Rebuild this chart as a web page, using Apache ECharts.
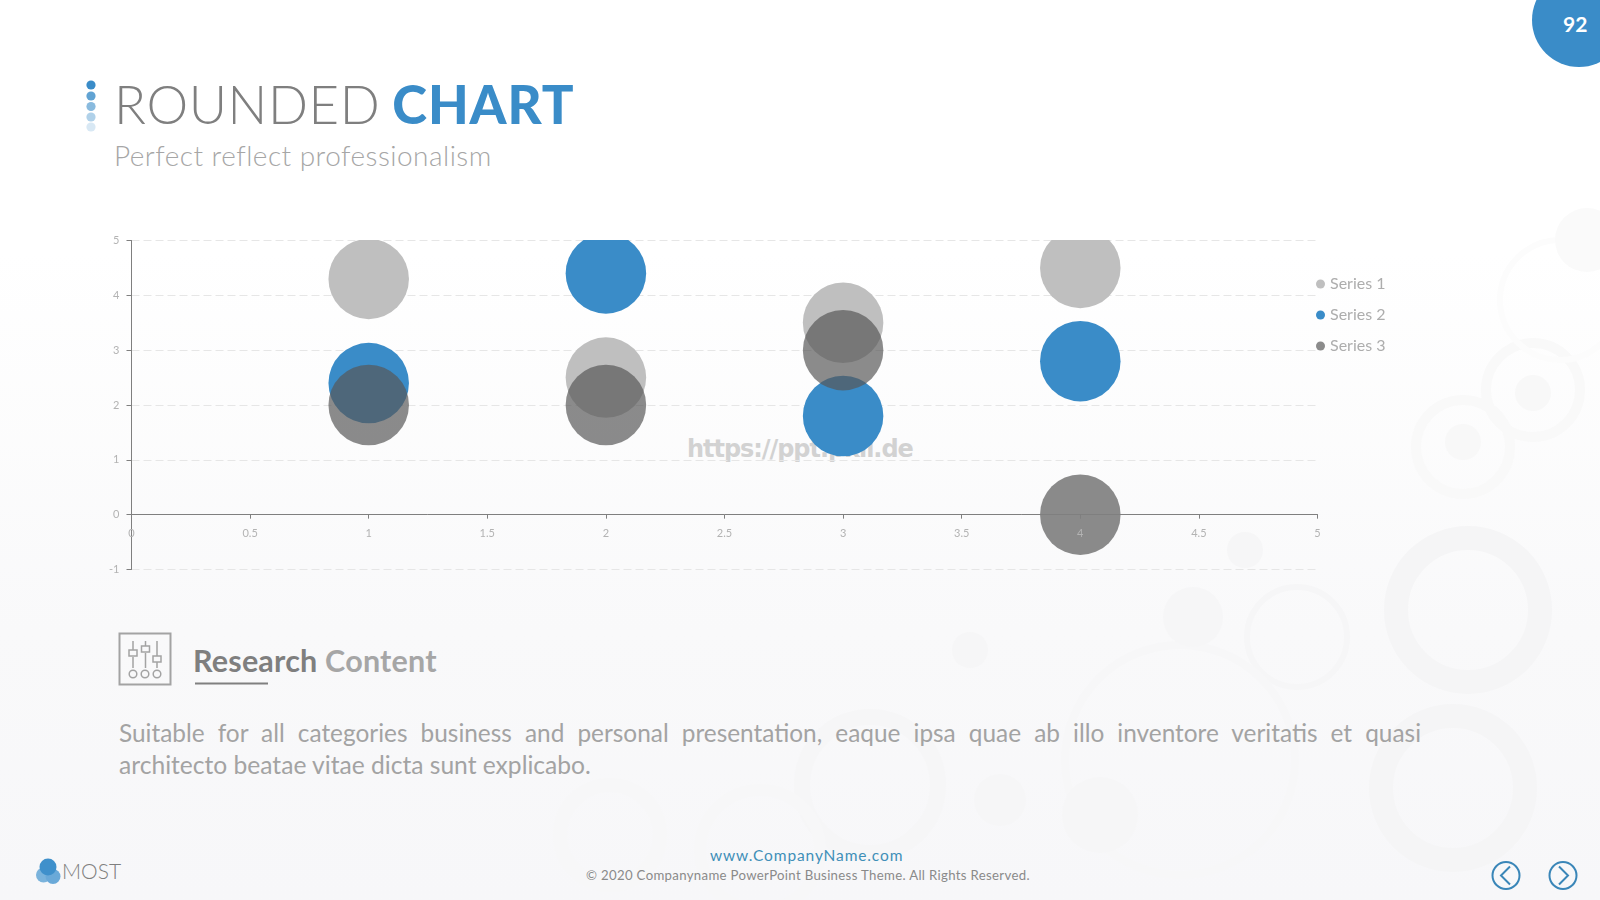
<!DOCTYPE html>
<html>
<head>
<meta charset="utf-8">
<title>Rounded Chart</title>
<script src="https://cdn.jsdelivr.net/npm/echarts@6/dist/echarts.min.js"></script>
<style>
html,body{margin:0;padding:0;width:1600px;height:900px;overflow:hidden;background:#fff;font-family:Lato,sans-serif}
#bg{position:absolute;left:0;top:0}
.t{position:absolute;white-space:nowrap;line-height:1}
#chart{position:absolute;left:0;top:0;width:1600px;height:900px}
</style>
</head>
<body>
<svg id="bg" width="1600" height="900" viewBox="0 0 1600 900">
  <defs><linearGradient id="g" x1="0" y1="0" x2="0" y2="1">
    <stop offset="0.28" stop-color="#ffffff"/><stop offset="0.7" stop-color="#f9f9fa"/><stop offset="1" stop-color="#f7f7f9"/>
  </linearGradient></defs>
  <rect width="1600" height="900" fill="url(#g)"/>
  <g fill="none" stroke="#f5f5f6">
    <circle cx="1468" cy="610" r="72" stroke-width="24"/>
    <circle cx="1453" cy="788" r="72" stroke-width="24"/>
    <circle cx="1533" cy="390" r="47" stroke-width="10" stroke="#f9f9f9"/>
    <circle cx="1463" cy="447" r="47" stroke-width="10" stroke="#f9f9f9"/>
    <circle cx="1560" cy="300" r="60" stroke-width="6" stroke="#fcfcfc"/>
    <circle cx="1297" cy="637" r="50" stroke-width="6" stroke="#f6f6f7"/>
    <circle cx="1180" cy="760" r="115" stroke-width="8" stroke="#f7f7f8"/>
    <circle cx="870" cy="785" r="68" stroke-width="16" stroke="#f6f6f7"/>
    <circle cx="610" cy="835" r="50" stroke-width="14" stroke="#f7f7f8"/>
    <circle cx="760" cy="850" r="60" stroke-width="12" stroke="#f7f7f8"/>
  </g>
  <g fill="#f6f6f7">
    <circle cx="1533" cy="393" r="18" fill="#f8f8f8"/><circle cx="1463" cy="442" r="18" fill="#f8f8f8"/>
    <circle cx="1587" cy="240" r="32" fill="#fafafa"/>
    <circle cx="1193" cy="617" r="30"/><circle cx="970" cy="650" r="18"/><circle cx="1245" cy="550" r="18"/>
    <circle cx="1100" cy="815" r="38"/><circle cx="1000" cy="800" r="26"/>
  </g>
  <!-- page badge -->
  <circle cx="1579" cy="20" r="47" fill="#3a8cc8"/>
  <!-- title dots -->
  <g fill="#3a8cc8">
    <circle cx="91" cy="85" r="4.6"/><circle cx="91" cy="96" r="4.6" opacity=".8"/>
    <circle cx="91" cy="106.500" r="4.6" opacity=".6"/><circle cx="91" cy="117" r="4.6" opacity=".4"/>
    <circle cx="91" cy="127" r="4.6" opacity=".2"/>
  </g>
  <!-- icon -->
  <g fill="none" stroke="#a3a3a3" stroke-width="1.5">
    <rect x="119.5" y="633.5" width="51" height="51" stroke-width="2"/>
    <path d="M133 641V650M133 657V668M145.500 641V646M145.500 653V668M157 641V656M157 662V668"/>
    <rect x="129" y="650" width="8" height="6"/><rect x="141.500" y="646" width="8" height="6"/><rect x="153" y="656" width="8" height="6"/>
    <circle cx="133" cy="674" r="3.800"/><circle cx="145" cy="674" r="3.800"/><circle cx="157" cy="674" r="3.800"/>
  </g>
  <rect x="195" y="682.500" width="73" height="2" fill="#808080"/>
  <!-- logo -->
  <g>
    <circle cx="43.500" cy="875" r="7.500" fill="#7ab3dc"/><circle cx="53" cy="876.500" r="7.500" fill="#6aa9d8"/>
    <circle cx="48" cy="867" r="8.500" fill="#3f90cb"/>
  </g>
  <!-- nav -->
  <g fill="none" stroke="#3a86b8" stroke-width="2">
    <circle cx="1506" cy="875.500" r="13.500"/><circle cx="1563" cy="875.500" r="13.500"/>
    <path d="M1510 866.500L1501 875.500L1510 884.500"/><path d="M1559 866.500L1568 875.500L1559 884.500"/>
  </g>
</svg>

<div class="t" style="left:114px;top:78px;font-size:52.7px;font-weight:300;color:#7f7f7f;letter-spacing:.6px">ROUNDED <span style="font-weight:900;color:#3a8cc8;letter-spacing:.9px;margin-left:-3px">CHART</span></div>
<div class="t" style="left:114px;top:141px;font-size:28px;font-weight:300;color:#a6a6a6;letter-spacing:.47px">Perfect reflect professionalism</div>
<div class="t" style="left:1563px;top:13px;font-size:21px;font-weight:700;color:#fff">92</div>
<div class="t" style="left:193px;top:645px;font-size:30.5px;font-weight:700;color:#7f7f7f;letter-spacing:.2px">Research <span style="color:#a6a6a6">Content</span></div>
<div style="position:absolute;left:119px;top:717px;width:1302px;font-size:24.4px;line-height:32px;color:#a3a3a3;white-space:nowrap;text-align:justify;text-align-last:justify">Suitable for all categories business and personal presentation, eaque ipsa quae ab illo inventore veritatis et quasi</div>
<div class="t" style="left:119px;top:749px;font-size:24.6px;line-height:32px;color:#a3a3a3">architecto beatae vitae dicta sunt explicabo.</div>
<div class="t" style="left:62px;top:860px;font-size:21px;font-weight:300;color:#7f7f7f">MOST</div>
<div class="t" style="left:710px;top:848px;font-size:15.5px;color:#3f8fb8;letter-spacing:.88px">www.CompanyName.com</div>
<div class="t" style="left:586px;top:869px;font-size:13.2px;color:#8a8a8a;letter-spacing:.33px">© 2020 Companyname PowerPoint Business Theme. All Rights Reserved.</div>
<div class="t" style="left:687px;top:437px;font-size:24px;font-weight:700;font-family:'DejaVu Sans';color:#d2d2d2;letter-spacing:-1.05px">https://ppt.pkil.de</div>

<div id="chart"></div>
<script>
var seriesNames = ['Series 1', 'Series 2', 'Series 3'];
var xValues = [1, 2, 3, 4];
var series1 = [4.3, 2.5, 3.5, 4.5];
var series2 = [2.4, 4.4, 1.8, 2.8];
var series3 = [2, 2, 3, 0];
var colors = ['#bfbfbf', '#3a8cc8', 'rgba(87,87,87,0.69)'];

function pairs(ys) { return xValues.map(function (x, i) { return [x, ys[i]]; }); }
var chart = echarts.init(document.getElementById('chart'), null, { renderer: 'canvas' });
var axisText = { color: '#b3b3b3', fontSize: 11, fontFamily: 'Lato' };
chart.setOption({
  backgroundColor: 'transparent',
  animation: false,
  color: colors,
  grid: { left: 131.5, right: 282.5, top: 240.5, bottom: 330.5, containLabel: false },
  legend: {
    orient: 'vertical', left: 1316, top: 276, padding: 0, icon: 'circle', itemWidth: 9, itemHeight: 9, itemGap: 15,
    data: seriesNames, textStyle: { color: '#adadad', fontSize: 16, fontFamily: 'Lato' }
  },
  /* top bubbles are cut at the plot's upper edge in the reference */
  graphic: [{ type: 'rect', z: 100, silent: true, shape: { x: 131, y: 190, width: 1186, height: 50 }, style: { fill: '#ffffff' } }],
  xAxis: {
    type: 'value', min: 0, max: 5, interval: 0.5, z: 5,
    axisLine: { onZero: true, lineStyle: { color: '#7f7f7f', width: 1 } },
    axisTick: { show: true, length: 4, lineStyle: { color: '#7f7f7f' } },
    axisLabel: Object.assign({ margin: -42, showMinLabel: true, showMaxLabel: true }, axisText),
    splitLine: { show: false }
  },
  yAxis: {
    type: 'value', min: -1, max: 5, interval: 1,
    axisLine: { show: true, onZero: false, lineStyle: { color: '#7f7f7f', width: 1 } },
    axisTick: { show: true, length: 5, lineStyle: { color: '#7f7f7f' } },
    axisLabel: Object.assign({ margin: 12, showMinLabel: true, showMaxLabel: true }, axisText),
    splitLine: { show: true, lineStyle: { type: [8, 4], color: '#e6e6e6', width: 1 } }
  },
  series: [series1, series2, series3].map(function (ys, i) {
    return { name: seriesNames[i], type: 'scatter', data: pairs(ys), symbol: 'circle', symbolSize: 80.5, clip: true,
      itemStyle: { color: colors[i], opacity: 1 } };
  })
});
</script>
</body>
</html>
